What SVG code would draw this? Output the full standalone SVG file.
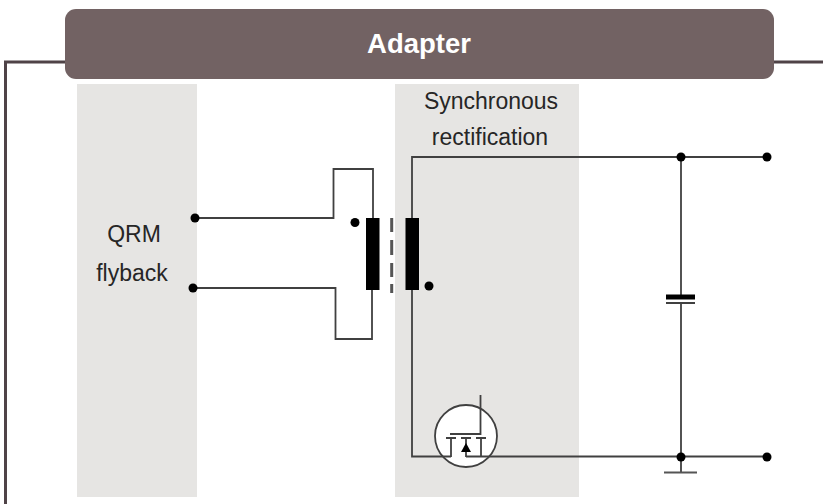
<svg xmlns="http://www.w3.org/2000/svg" width="823" height="504" viewBox="0 0 823 504">
<style>
.w{fill:none;stroke:#404040;stroke-width:1.800}
.b{fill:#000}
.t{font-family:"Liberation Sans",Arial,sans-serif;font-size:23px;fill:#262626;text-anchor:middle}
</style>
<rect width="823" height="504" fill="#fff"/>
<g id="zones">
<rect id="zone-qrm" x="77" y="84" width="120" height="413" fill="#e6e5e3"/>
<rect id="zone-sync" x="395" y="84" width="184" height="413" fill="#e6e5e3"/>
</g>
<g id="frame"><path d="M65 62H5.500V504M774 62H823" fill="none" stroke="#4f4347" stroke-width="3"/></g>
<g id="adapter-banner">
<rect x="65" y="9" width="709" height="70" rx="11" fill="#726263"/>
<text x="419" y="53" style="font-family:'Liberation Sans',Arial,sans-serif;font-size:27.500px;font-weight:700;fill:#fff;text-anchor:middle">Adapter</text>
</g>
<g id="connectors">
<path class="w" d="M195 218H333.500V169H373V218"/>
<path class="w" d="M195 288H335.500V339H372V290"/>
<path class="w" d="M412 218V157H767"/>
<path class="w" d="M681 157V296"/>
<path class="w" d="M681 304V472"/>
</g>
<g id="label-qrm"><text class="t" x="134" y="242">QRM</text><text class="t" x="132" y="281">flyback</text></g>
<g id="label-sync"><text class="t" x="491" y="109">Synchronous</text><text class="t" x="490" y="145">rectification</text></g>
<g id="transformer">
<rect class="b" x="366" y="218" width="13.500" height="72"/>
<rect class="b" x="405.500" y="218" width="13.500" height="72"/>
<path d="M391.700 218V232M391.700 240V255M391.700 263V277M391.700 284V293" fill="none" stroke="#555" stroke-width="3"/>
<circle class="b" cx="355" cy="222.500" r="4.500"/>
<circle class="b" cx="429" cy="286" r="4.500"/>
</g>
<g id="mosfet">
<circle cx="466" cy="436" r="31" fill="#fff" stroke="#404040" stroke-width="1.800"/>
<path class="w" d="M480.500 395V434H450"/>
<path class="w" d="M446 438H456M461 438H471M476 438H486M451 438V457M481 438V457M466 438V457"/>
<path class="b" d="M466 443L461 452H471Z"/>
<path class="w" d="M412 290V456.500H451M466 456.500H767"/>
</g>
<g id="capacitor">
<rect class="b" x="666" y="294.500" width="29" height="5"/>
<rect x="666" y="302" width="29" height="2" fill="#404040"/>
</g>
<g id="ground"><path d="M664 472.500H697" fill="none" stroke="#555" stroke-width="2"/></g>
<g id="terminals">
<circle class="b" cx="195" cy="218" r="4.500"/>
<circle class="b" cx="193" cy="288" r="4.500"/>
<circle class="b" cx="681" cy="157" r="4.500"/>
<circle class="b" cx="767" cy="157" r="4.500"/>
<circle class="b" cx="681" cy="457" r="4.500"/>
<circle class="b" cx="767" cy="457" r="4.500"/>
</g>
</svg>
